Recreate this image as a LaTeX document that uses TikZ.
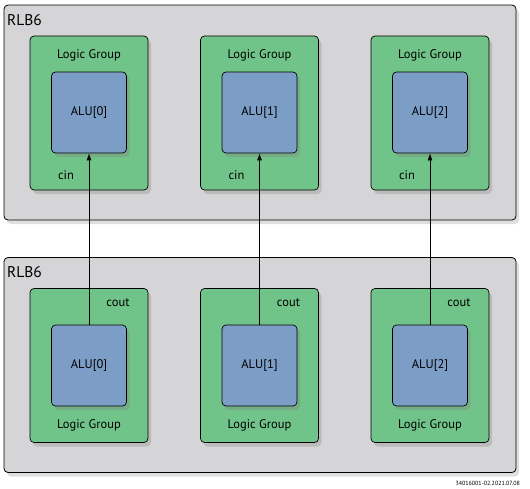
\documentclass[tikz,border=0pt]{standalone}
\usepackage{fontspec}
\setmainfont{PT Sans}
\usetikzlibrary{arrows.meta,shadows}
\definecolor{rlbgray}{HTML}{D5D5D7}
\definecolor{lggreen}{HTML}{71C489}
\definecolor{alublue}{HTML}{7B9DC6}
\tikzset{
  rlb/.style={draw=black,line width=0.8pt,fill=rlbgray,rounded corners=4pt,minimum width=512pt,minimum height=215pt,inner sep=0pt,
    drop shadow={shadow xshift=3pt,shadow yshift=-4pt,opacity=0.25}},
  lg/.style={draw=black,line width=0.7pt,fill=lggreen,rounded corners=4pt,minimum width=118pt,minimum height=154pt,inner sep=0pt,
    drop shadow={shadow xshift=3pt,shadow yshift=-4pt,opacity=0.3}},
  alu/.style={draw=black,line width=0.7pt,fill=alublue,rounded corners=4pt,minimum width=75pt,minimum height=81pt,inner sep=0pt,
    font=\fontsize{12.5}{14}\selectfont,drop shadow={shadow xshift=3pt,shadow yshift=-4pt,opacity=0.35}},
  lbl/.style={font=\fontsize{12.5}{14}\selectfont,inner sep=0pt},
  sig/.style={-{Latex[length=7pt,width=5pt]},line width=0.6pt}
}
\begin{document}
\begin{tikzpicture}[x=1pt,y=-1pt]
  \useasboundingbox (0,0) rectangle (530,488);

  % upper RLB
  \node[rlb] (rlbT) at (260,112.5) {};
  \node[anchor=west,inner sep=0pt,font=\fontsize{15.5}{17}\selectfont] (rlbTname) at (7,20) {RLB6};
  \node[lg] (lgT0) at (89,113) {};
  \node[lg] (lgT1) at (259.5,113) {};
  \node[lg] (lgT2) at (430,113) {};
  \node[lbl] (lgT0name) at (89,55) {Logic Group};
  \node[lbl] (lgT1name) at (259.5,55) {Logic Group};
  \node[lbl] (lgT2name) at (430,55) {Logic Group};
  \node[alu] (aluT0) at (89,112.5) {ALU[0]};
  \node[alu] (aluT1) at (259.5,112.5) {ALU[1]};
  \node[alu] (aluT2) at (430,112.5) {ALU[2]};
  \node[lbl] (cinT0) at (66,175) {cin};
  \node[lbl] (cinT1) at (236.5,175) {cin};
  \node[lbl] (cinT2) at (407,175) {cin};

  % lower RLB
  \node[rlb] (rlbB) at (260,365) {};
  \node[anchor=west,inner sep=0pt,font=\fontsize{15.5}{17}\selectfont] (rlbBname) at (7,272) {RLB6};
  \node[lg] (lgB0) at (89,365.5) {};
  \node[lg] (lgB1) at (259.5,365.5) {};
  \node[lg] (lgB2) at (430,365.5) {};
  \node[lbl] (lgB0name) at (89,425) {Logic Group};
  \node[lbl] (lgB1name) at (259.5,425) {Logic Group};
  \node[lbl] (lgB2name) at (430,425) {Logic Group};
  \node[alu] (aluB0) at (89,365.5) {ALU[0]};
  \node[alu] (aluB1) at (259.5,365.5) {ALU[1]};
  \node[alu] (aluB2) at (430,365.5) {ALU[2]};
  \node[lbl] (coutB0) at (118,303) {cout};
  \node[lbl] (coutB1) at (288.5,303) {cout};
  \node[lbl] (coutB2) at (459,303) {cout};

  \draw[sig] (aluB0) to (aluT0); \draw[sig] (aluB1) to (aluT1); \draw[sig] (aluB2) to (aluT2);

  \node[anchor=east,inner sep=0pt,font=\fontsize{6}{7}\selectfont] (docid) at (520,483) {34016001-02.2021.07.08};
\end{tikzpicture}
\end{document}
